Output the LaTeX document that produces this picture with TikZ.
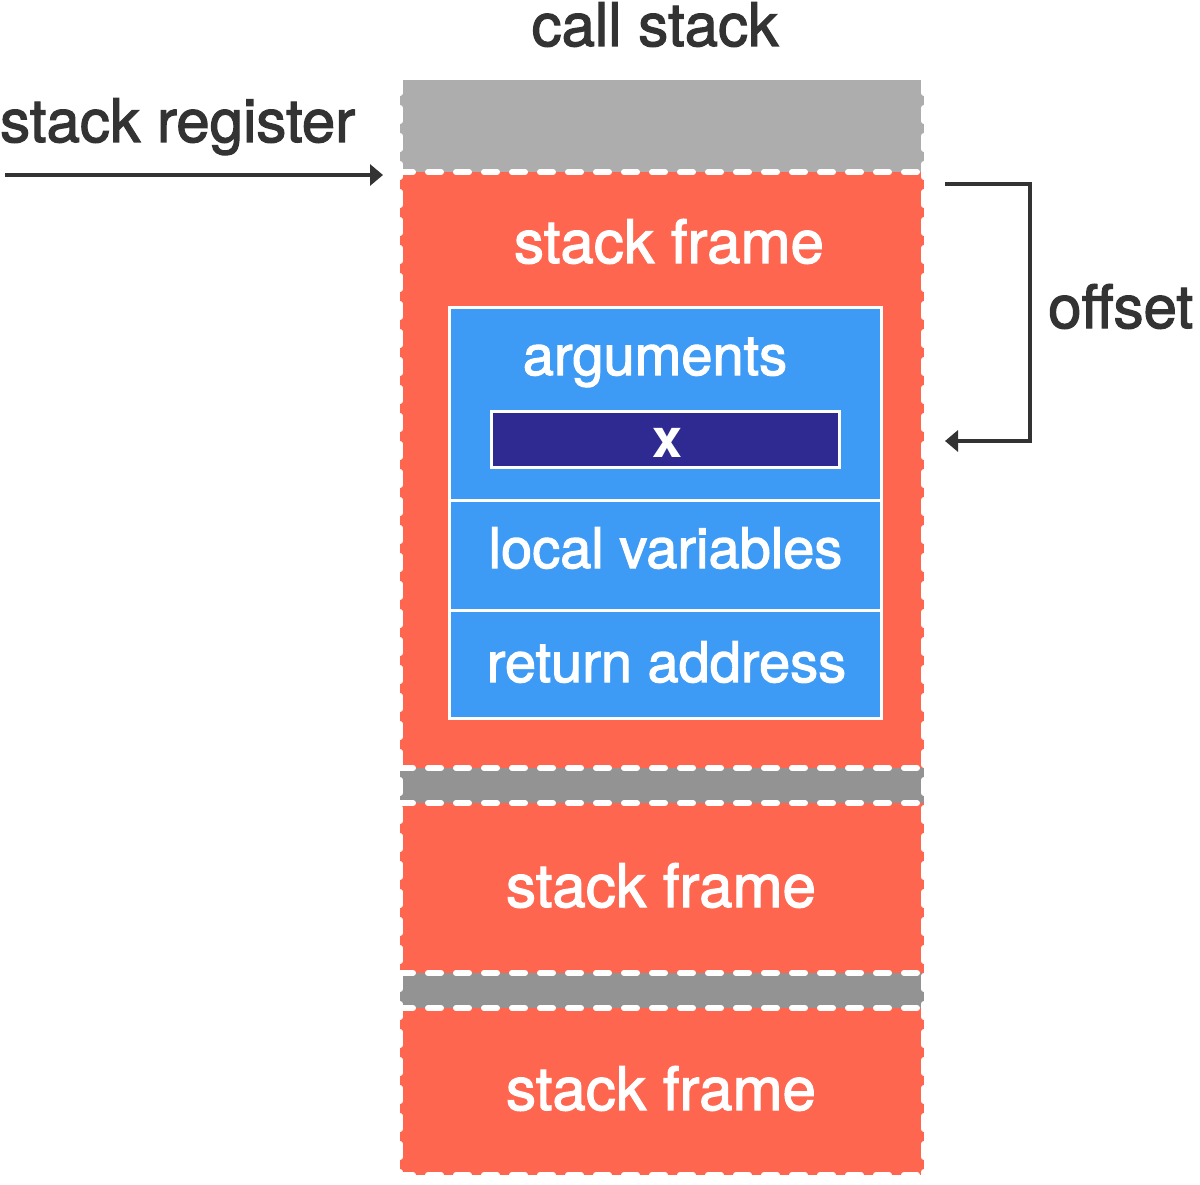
\documentclass[tikz,border=0pt]{standalone}
\usepackage{fontspec}
\setmainfont[FakeBold=2]{TeX Gyre Heros}
\newfontfamily\boldheros{TeX Gyre Heros Bold}
\usetikzlibrary{arrows.meta}
\definecolor{txt}{HTML}{333333}
\definecolor{grayA}{HTML}{ADADAD}
\definecolor{grayB}{HTML}{939393}
\definecolor{redF}{HTML}{FF6650}
\definecolor{blueF}{HTML}{3D9AF5}
\definecolor{navyF}{HTML}{2E2A91}
\begin{document}
\begin{tikzpicture}[x=1pt,y=-1pt,
  blk/.style={draw=none, inner sep=0pt, outer sep=0pt, anchor=north west, minimum width=524pt},
  cell/.style={fill=blueF, draw=white, line width=3pt, inner sep=0pt, outer sep=0pt, anchor=north west, minimum width=432pt},
  dsh/.style={draw=white, line width=6pt, line cap=round, dash pattern=on 13pt off 15pt},
  lbl/.style={text=txt, font=\fontsize{60}{60}\selectfont, inner sep=0pt, anchor=base},
  wlbl/.style={text=white, font=\fontsize{60}{60}\selectfont, inner sep=0pt, anchor=base},
  ilbl/.style={text=white, font=\fontsize{56}{56}\selectfont, inner sep=0pt, anchor=base},
  conn/.style={draw=txt, line width=3.5pt, -{Triangle[length=13pt,width=21pt]}}]
\useasboundingbox (0,0) rectangle (1200,1185);
% stack blocks
\node[blk, fill=grayA, minimum height=92pt] (g0) at (400,80) {};
\node[blk, fill=redF, minimum height=596pt] (f1) at (400,172) {};
\node[blk, fill=grayB, minimum height=35pt] (g1) at (400,768) {};
\node[blk, fill=redF, minimum height=170pt] (f2) at (400,803) {};
\node[blk, fill=grayB, minimum height=35pt] (g2) at (400,973) {};
\node[blk, fill=redF, minimum height=167pt] (f3) at (400,1008) {};
% dashed white borders
\draw[dsh] (f1.north west) -- (f1.north east);
\draw[dsh] (g1.north west) -- (g1.north east);
\draw[dsh] (f2.north west) -- (f2.north east);
\draw[dsh] (g2.north west) -- (g2.north east);
\draw[dsh] (f3.north west) -- (f3.north east);
\draw[dsh] (f3.south west) -- (f3.south east);
\draw[dsh] (g0.north west) -- (f3.south west);
\draw[dsh] (g0.north east) -- (f3.south east);
% inner blue panel
\node[cell, minimum height=192.5pt] (args) at (449.5,307.5) {};
\node[cell, minimum height=110pt] (locv) at (449.5,500) {};
\node[cell, minimum height=108.5pt] (reta) at (449.5,610) {};
\node[fill=navyF, draw=white, line width=3pt, inner sep=0pt, outer sep=0pt, anchor=north west, minimum width=348pt, minimum height=56pt] (xbox) at (491.5,411.5) {};
% texts
\node[lbl] (title) at (655,46) {call stack};
\node[lbl, anchor=base west] (sreg) at (0,142) {stack register};
\node[lbl, anchor=base west] (offs) at (1048,328) {offset};
\node[wlbl] (sf1) at (669,263) {stack frame};
\node[wlbl] (sf2) at (661,907) {stack frame};
\node[wlbl] (sf3) at (661,1110) {stack frame};
\node[ilbl] (targs) at (655,375) {arguments};
\node[ilbl, font=\boldheros\fontsize{54}{54}\selectfont] (tx) at (668,457) {x};
\node[ilbl] (tlocv) at (665.5,568) {local variables};
\node[ilbl] (treta) at (666.5,682) {return address};
% connectors
\coordinate (sregstart) at (5,175);
\coordinate (sregend) at (383,175);
\draw[conn] (sregstart) -- (sregend);
\coordinate (ofa) at (945,184);
\coordinate (ofb) at (945,441);
\draw[conn] (ofa) -- (1030,184) -- (1030,441) -- (ofb);
\end{tikzpicture}
\end{document}
